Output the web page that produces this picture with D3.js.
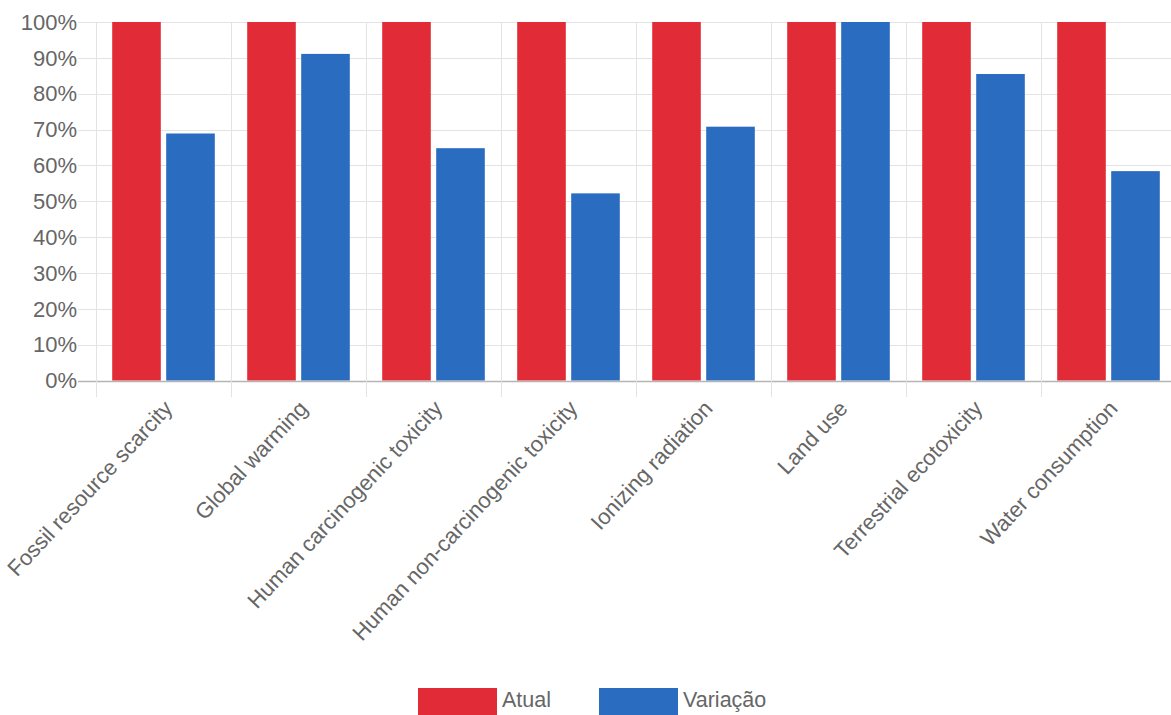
<!DOCTYPE html>
<html>
<head>
<meta charset="utf-8">
<script src="https://cdn.jsdelivr.net/npm/d3@7/dist/d3.min.js"></script>
<style>
  html, body { margin: 0; padding: 0; background: #fff; }
  svg { display: block; font-family: "Liberation Sans", Arial, sans-serif; }
</style>
</head>
<body>
<svg id="chart" width="1171" height="715"></svg>
<script>
// Impact categories and relative results (% of the current scenario)
const categories = [
  "Fossil resource scarcity",
  "Global warming",
  "Human carcinogenic toxicity",
  "Human non-carcinogenic toxicity",
  "Ionizing radiation",
  "Land use",
  "Terrestrial ecotoxicity",
  "Water consumption"
];
const atual    = [100, 100, 100, 100, 100, 100, 100, 100];
const variacao = [68.9, 91.1, 64.8, 52.2, 70.8, 100, 85.5, 58.4];
const seriesNames = ["Atual", "Variação"];
const seriesColors = ["#e12c37", "#2a6cc0"];
const yTicks = [0, 10, 20, 30, 40, 50, 60, 70, 80, 90, 100];

const svg = d3.select("#chart");
const plotLeft = 96, plotTop = 22, plotBottom = 380.5;
const plotRight = plotLeft + 135 * categories.length;
const textColor = "#666";
const fontSize = 22;

const x = d3.scaleBand().domain(categories).range([plotLeft, plotRight]).padding(0);
const y = d3.scaleLinear().domain([0, 100]).range([plotBottom, plotTop]);

// horizontal grid + tick marks
const gridColor = "#e3e3e3";
svg.append("g").selectAll("line").data(yTicks).join("line")
  .attr("x1", 78).attr("x2", 1171)
  .attr("y1", d => Math.round(y(d)) + 0.5).attr("y2", d => Math.round(y(d)) + 0.5)
  .attr("stroke", d => d === 0 ? "#b5b5b5" : gridColor)
  .attr("stroke-width", d => d === 0 ? 1.5 : 1);

// vertical grid at category boundaries
const bounds = categories.map(c => x(c)).concat([plotRight]);
svg.append("g").selectAll("line").data(bounds).join("line")
  .attr("x1", d => Math.round(d) + 0.5).attr("x2", d => Math.round(d) + 0.5)
  .attr("y1", plotTop).attr("y2", 397)
  .attr("stroke", gridColor).attr("stroke-width", 1);

// y tick labels
svg.append("g").selectAll("text").data(yTicks).join("text")
  .attr("x", 77).attr("y", d => y(d))
  .attr("dy", "0.35em")
  .attr("text-anchor", "end")
  .attr("font-size", fontSize)
  .attr("fill", textColor)
  .text(d => d + "%");

// bars: 80% of each category, split between the two series, each bar 90% of its slot
const data = [atual, variacao];
const bw = x.bandwidth();
const slot = bw * 0.8 / seriesNames.length;
const barW = slot * 0.9;
const groups = svg.append("g").selectAll("g").data(categories).join("g")
  .attr("transform", c => `translate(${x(c)},0)`);
groups.selectAll("rect").data((c, i) => seriesNames.map((s, k) => ({ s, k, v: data[k][i] }))).join("rect")
  .attr("x", d => bw * 0.1 + d.k * slot + (slot - barW) / 2)
  .attr("width", barW)
  .attr("y", d => y(d.v))
  .attr("height", d => y(0) - y(d.v))
  .attr("fill", d => seriesColors[d.k]);

// rotated category labels
svg.append("g").selectAll("text").data(categories).join("text")
  .attr("transform", c => `translate(${x(c) + bw / 2 - 1},${399}) rotate(-47)`)
  .attr("text-anchor", "end")
  .attr("dy", "0.7em")
  .attr("font-size", fontSize)
  .attr("fill", textColor)
  .text(c => c);

// legend
const legend = svg.append("g");
const legendX = [418, 599];
seriesNames.forEach((s, k) => {
  legend.append("rect").attr("x", legendX[k]).attr("y", 688).attr("width", 79).attr("height", 30)
    .attr("fill", seriesColors[k]);
  legend.append("text").attr("x", legendX[k] + 84).attr("y", 707)
    .attr("font-size", 21.5).attr("fill", textColor).text(s);
});
</script>
</body>
</html>
